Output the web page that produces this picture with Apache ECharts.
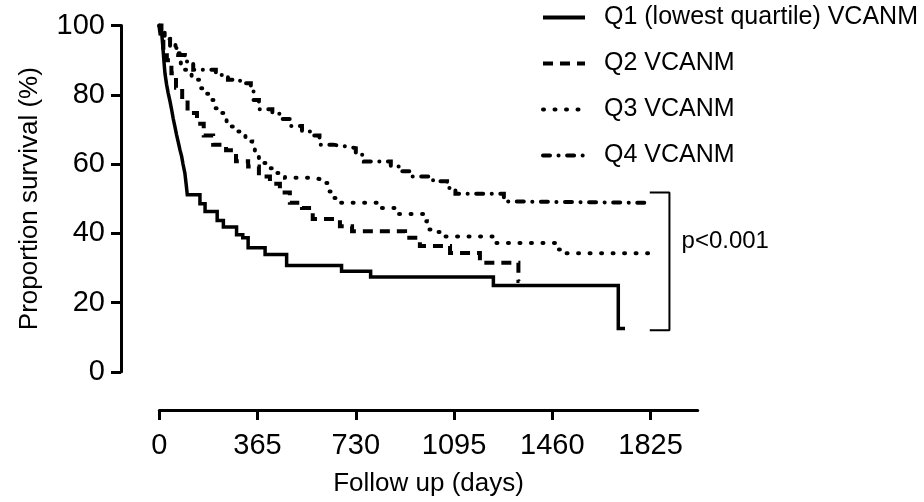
<!DOCTYPE html>
<html><head><meta charset="utf-8">
<script src="https://cdn.jsdelivr.net/npm/echarts@6.0.0/dist/echarts.min.js"></script>
<style>html,body{margin:0;padding:0;background:#fff}#c{width:924px;height:502px}</style>
</head><body><div id="c"></div>
<script>
const seriesNames = ['Q1 (lowest quartile) VCANM', 'Q2 VCANM', 'Q3 VCANM', 'Q4 VCANM'];
// [day, % surviving from that day onwards]
const q1Data = [[0,100],[4,99],[9,97.8],[12,95],[15,92],[18,89],[21,86.2],[27,83],[33,80.5],[40,78],[46,75.6],[52,73],[58,70.8],[64,68.5],[71,66.1],[77,64],[83,62.2],[88,60],[95,57.4],[100,54],[104,51.1],[151,48.5],[170,46.3],[215,43.7],[238,41.8],[287,39.6],[310,38.7],[330,35.8],[393,33.9],[473,30.7],[677,29.0],[785,27.4],[1241,24.9],[1705,12.5],[1730,12.5]];
const q2Data = [[0,100],[5,97],[15,93],[28,90],[45,86.2],[62,82],[85,78.7],[105,74.7],[140,71.6],[165,68.2],[200,65.6],[248,64.0],[285,60.8],[330,59.3],[370,56.4],[411,54.3],[448,51.8],[485,48.8],[530,47.3],[570,44.1],[671,42.0],[716,40.6],[913,38.7],[968,36.3],[1080,34.3],[1191,31.5],[1334,26.2],[1338,26.2]];
const q3Data = [[0,100],[5,99],[20,97.3],[40,95],[60,92],[80,89],[95,87.2],[120,84.3],[150,81.9],[170,80.3],[195,78.5],[207,76.1],[225,74.7],[250,70.8],[280,69.4],[320,66.5],[345,64.6],[355,62.4],[370,60.3],[400,58.8],[435,57.4],[467,56],[575,55.5],[605,54.5],[625,52.1],[640,50.2],[655,48.8],[812,47.3],[875,45.6],[983,43.5],[994,41.1],[1030,40.4],[1054,39.1],[1243,37.2],[1473,35.3],[1492,34.2],[1852,34.2]];
const q4Data = [[0,100],[8,98],[20,96],[40,93.5],[70,91.5],[95,89.6],[126,87.2],[210,85.7],[255,84.3],[300,83.3],[340,81.4],[350,78.5],[370,75.8],[420,74.5],[455,73.0],[490,71.0],[530,69.4],[570,68.2],[595,65.6],[645,65.1],[690,64.6],[730,62.7],[760,60.7],[860,59.3],[900,57.9],[935,56.4],[1017,55.0],[1069,53.1],[1100,51.4],[1280,49.2],[1300,48.8],[1810,48.8]];
const xTicks = [0, 365, 730, 1095, 1460, 1825];
const yTicks = [0, 20, 40, 60, 80, 100];
const bracketData = [[1822,51.8],[1895,51.8],[1895,12.0],[1822,12.0]];
const pText = 'p<0.001';
const pAnchor = [[1940, 37.7]];
const xTitle = 'Follow up (days)';
const yTitle = 'Proportion survival (%)';

const FF = '"Liberation Sans", Arial, sans-serif';
const chart = echarts.init(document.getElementById('c'), null, {renderer:'canvas'});

function km(name, data, dash, width, cap) {
  return {
    name: name, type: 'line', data: data, step: 'end', symbol: 'none', showSymbol: false,
    animation: false, clip: false,
    lineStyle: {color: '#000', width: width, type: dash, cap: cap, join: 'miter'},
    itemStyle: {color: '#000'}
  };
}
const plain = function (v) { return String(v); };

chart.setOption({
  animation: false,
  backgroundColor: '#fff',
  grid: {left: 159.3, right: 226.3, top: 25.5, bottom: 129.5, containLabel: false},
  legend: {
    orient: 'vertical', left: 541, top: 5, itemWidth: 42, itemHeight: 14, itemGap: 21, padding: 0,
    selectedMode: false, data: seriesNames,
    itemStyle: {opacity: 0},
    lineStyle: {width: 4},
    textStyle: {fontSize: 25, fontFamily: FF, color: '#000', padding: [0, 0, 0, 14]}
  },
  xAxis: {
    type: 'value', min: 0, max: 2000, interval: 365, offset: 38.2,
    axisLine: {show: true, onZero: false, lineStyle: {color: '#000', width: 3}},
    axisTick: {show: true, length: 10, customValues: xTicks, lineStyle: {color: '#000', width: 3}},
    axisLabel: {customValues: xTicks, formatter: plain, fontSize: 29, fontFamily: FF, color: '#000', margin: 21},
    splitLine: {show: false},
    name: xTitle, nameLocation: 'middle', nameGap: 61,
    nameTextStyle: {fontSize: 26, fontFamily: FF, color: '#000'}
  },
  yAxis: {
    type: 'value', min: 0, max: 100, interval: 20, offset: 38.3,
    axisLine: {show: true, onZero: false, lineStyle: {color: '#000', width: 3}},
    axisTick: {show: true, length: 10, customValues: yTicks, lineStyle: {color: '#000', width: 3}},
    axisLabel: {customValues: yTicks, formatter: plain, fontSize: 29, fontFamily: FF, color: '#000', margin: 16},
    splitLine: {show: false},
    name: yTitle, nameLocation: 'middle', nameGap: 78,
    nameTextStyle: {fontSize: 26, fontFamily: FF, color: '#000'}
  },
  series: [
    km(seriesNames[0], q1Data, 'solid', 3.5, 'butt'),
    km(seriesNames[1], q2Data, [10, 7], 4, 'butt'),
    km(seriesNames[2], q3Data, [1, 10.5], 4, 'round'),
    km(seriesNames[3], q4Data, [7, 8.5, 0.1, 8.5], 4, 'round'),
    {
      name: 'bracket', type: 'line', data: bracketData, symbol: 'none', animation: false, clip: false,
      lineStyle: {color: '#000', width: 2}, silent: true
    },
    {
      name: 'p', type: 'scatter', data: pAnchor, symbolSize: 0, animation: false, clip: false, silent: true,
      itemStyle: {color: '#000', opacity: 1},
      label: {show: true, position: 'right', distance: 0, formatter: pText, fontSize: 24, fontFamily: FF, color: '#000', opacity: 1}
    }
  ]
});
</script></body></html>
